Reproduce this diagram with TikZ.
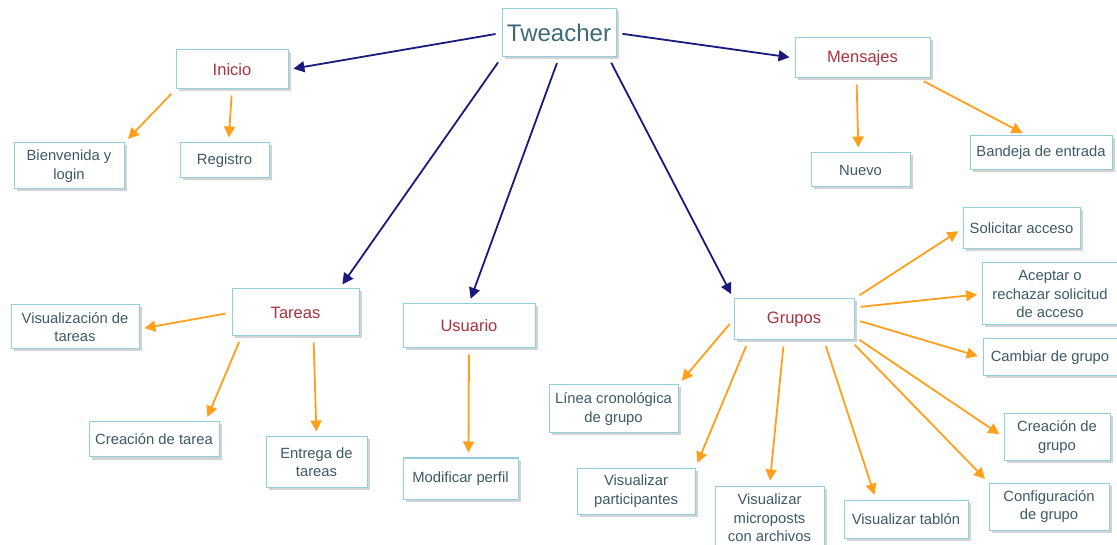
\documentclass[tikz,border=0pt]{standalone}
\usepackage{fontspec}
\setmainfont{Liberation Sans}
\usetikzlibrary{arrows.meta,shadows}
\definecolor{boxline}{HTML}{92CFDC}
\definecolor{boxtext}{HTML}{3D5A68}
\definecolor{headtext}{HTML}{A8323E}
\definecolor{roottext}{HTML}{3E6A78}
\definecolor{navyline}{HTML}{1A1A7C}
\definecolor{orangeline}{HTML}{FF9F1C}
\tikzset{
  box/.style={draw=boxline, line width=1pt, fill=white, align=center,
    text=boxtext, inner sep=2pt, font=\fontsize{14.8}{18.5}\selectfont,
    drop shadow={shadow xshift=2.5pt, shadow yshift=-2.5pt, opacity=0.35, fill=gray}},
  headbox/.style={box, text=headtext, font=\fontsize{16.5}{19}\selectfont},
  rootbox/.style={box, text=roottext, font=\fontsize{24}{26}\selectfont},
  navyarrow/.style={draw=navyline, line width=1.8pt,
    -{Triangle[length=11pt,width=11pt]}, shorten <=6pt, shorten >=5pt},
  orangearrow/.style={draw=orangeline, line width=1.8pt,
    -{Triangle[length=11pt,width=11pt]}, shorten <=6pt, shorten >=5pt},
}
\begin{document}
\begin{tikzpicture}[x=1pt,y=1pt]
\useasboundingbox (0,0) rectangle (1117,544);

% root
\node[rootbox, minimum width=114pt, minimum height=48pt] (tw) at (559,511) {Tweacher};

% main branches
\node[headbox, minimum width=112pt, minimum height=39pt] (inicio) at (232,474.5) {Inicio};
\node[headbox, minimum width=135pt, minimum height=40pt] (mensajes) at (862.5,486) {Mensajes};
\node[headbox, minimum width=127pt, minimum height=47pt] (tareas) at (295.5,231.5) {Tareas};
\node[headbox, minimum width=132pt, minimum height=44pt] (usuario) at (469,218) {Usuario};
\node[headbox, minimum width=120pt, minimum height=41pt] (grupos) at (794,224.5) {Grupos};

% Inicio
\node[box, minimum width=110pt, minimum height=46pt] (bienv) at (69,378) {Bienvenida y\\login};
\node[box, minimum width=89pt, minimum height=35pt] (registro) at (224.5,383.5) {Registro};

% Mensajes
\node[box, minimum width=99pt, minimum height=34pt] (nuevo) at (860.5,374) {Nuevo};
\node[box, minimum width=142pt, minimum height=34pt] (bandeja) at (1041,391) {Bandeja de entrada};

% Tareas
\node[box, minimum width=128pt, minimum height=44pt] (vistar) at (75,217) {Visualización de\\tareas};
\node[box, minimum width=130pt, minimum height=35pt] (ctarea) at (154,104.5) {Creación de tarea};
\node[box, minimum width=101pt, minimum height=50pt] (entrega) at (316.5,82) {Entrega de\\tareas};

% Usuario
\node[box, minimum width=115pt, minimum height=41pt] (modif) at (460.5,65.5) {Modificar perfil};

% Grupos
\node[box, minimum width=117pt, minimum height=41pt] (solicitar) at (1021.5,315.5) {Solicitar acceso};
\node[box, minimum width=135pt, minimum height=62pt] (aceptar) at (1050,250) {Aceptar o\\rechazar solicitud\\de acceso};
\node[box, minimum width=134pt, minimum height=37pt] (cambiar) at (1050,186.5) {Cambiar de grupo};
\node[box, minimum width=106pt, minimum height=46pt] (cgrupo) at (1057,107) {Creación de\\grupo};
\node[box, minimum width=120pt, minimum height=47pt] (config) at (1049,37.5) {Configuración\\de grupo};
\node[box, minimum width=124pt, minimum height=38pt] (tablon) at (906,25) {Visualizar tablón};
\node[box, minimum width=109pt, minimum height=64pt] (micro) at (769.5,26) {Visualizar\\microposts\\con archivos};
\node[box, minimum width=118pt, minimum height=46pt] (partic) at (636,53) {Visualizar\\participantes};
\node[box, minimum width=129pt, minimum height=48pt] (linea) at (613.5,135) {Línea cronológica\\de grupo};

% root connectors
\draw[navyarrow] (tw.west) -- (inicio.east);
\draw[navyarrow] (tw.east) -- (mensajes.west);
\draw[navyarrow] (tw.south west) -- ([xshift=-20pt]tareas.north east);
\draw[navyarrow] (tw.south) -- (usuario.north);
\draw[navyarrow] ([xshift=-8pt]tw.south east) -- (grupos.north west);

% Inicio connectors
\draw[orangearrow] (inicio.south west) -- (bienv.north east);
\draw[orangearrow] (inicio.south) -- ([xshift=4pt]registro.north);

% Mensajes connectors
\draw[orangearrow] ([xshift=-6pt]mensajes.south) -- ([xshift=-2pt]nuevo.north);
\draw[orangearrow] ([xshift=-12pt]mensajes.south east) -- ([xshift=-14pt]bandeja.north);

% Tareas connectors
\draw[orangearrow] (tareas.west) -- ([yshift=-2pt]vistar.east);
\draw[orangearrow] ([xshift=10pt]tareas.south west) -- ([xshift=-14pt]ctarea.north east);
\draw[orangearrow] ([xshift=18pt]tareas.south) -- (entrega.north);

% Usuario connector
\draw[orangearrow] (usuario.south) -- ([xshift=8pt]modif.north);

% Grupos connectors
\draw[orangearrow] (grupos.north east) -- (solicitar.west);
\draw[orangearrow] ([yshift=12pt]grupos.east) -- (aceptar.west);
\draw[orangearrow] (grupos.east) -- (cambiar.west);
\draw[orangearrow] ([yshift=4pt]grupos.south east) -- (cgrupo.west);
\draw[orangearrow] ([xshift=-4pt]grupos.south east) -- (config.north west);
\draw[orangearrow] ([xshift=30pt]grupos.south) -- ([xshift=-30pt]tablon.north);
\draw[orangearrow] ([xshift=-10pt]grupos.south) -- (micro.north);
\draw[orangearrow] ([xshift=15pt]grupos.south west) -- (partic.north east);
\draw[orangearrow] (grupos.west) -- (linea.north east);
\end{tikzpicture}
\end{document}
